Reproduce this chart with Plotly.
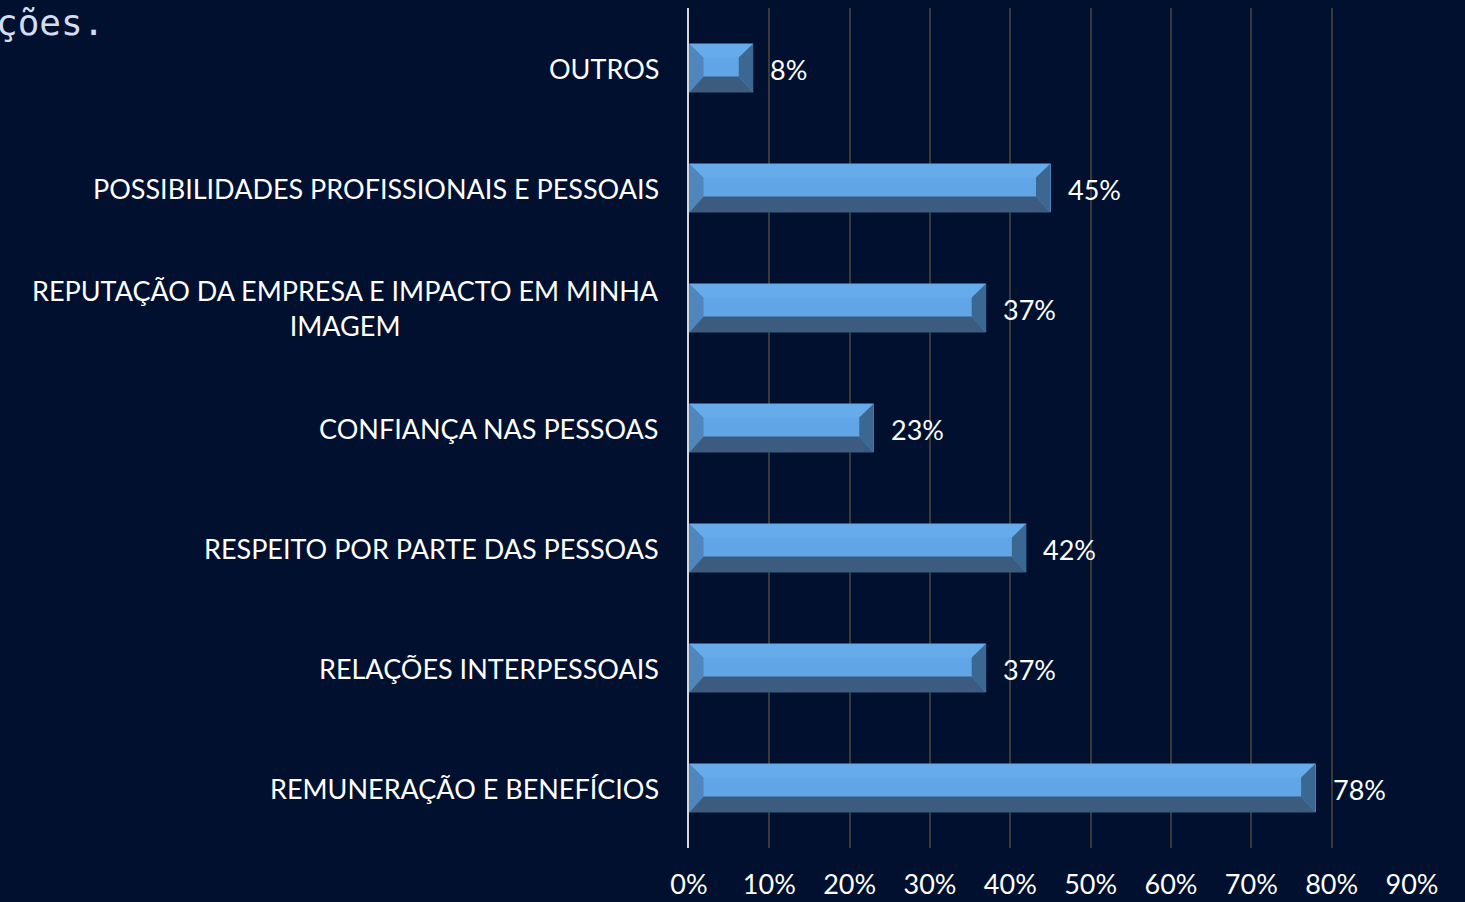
import plotly.graph_objects as go

categories = [
    "REMUNERAÇÃO E BENEFÍCIOS",
    "RELAÇÕES INTERPESSOAIS",
    "RESPEITO POR PARTE DAS PESSOAS",
    "CONFIANÇA NAS PESSOAS",
    "REPUTAÇÃO DA EMPRESA E IMPACTO EM MINHA<br>IMAGEM",
    "POSSIBILIDADES PROFISSIONAIS E PESSOAIS",
    "OUTROS",
]
values = [78, 37, 42, 23, 37, 45, 8]
tick_vals = [0, 10, 20, 30, 40, 50, 60, 70, 80, 90]
tick_text = ["0%", "10%", "20%", "30%", "40%", "50%", "60%", "70%", "80%", "90%"]

BG = "#00102E"
FONT = "Lato"

W, H = 1465, 902
L, R, T, B = 689, 53, 8, 54
x_range = [0, 90]
y_range = [-0.5, len(categories) - 0.5]
px_per_x = (W - L - R) / (x_range[1] - x_range[0])
px_per_y = (H - T - B) / (y_range[1] - y_range[0])

half = 0.204          # half bar thickness (category units)
bx = 14.5 / px_per_x  # bevel width in data units
by_top = 14 / px_per_y
by_bot = 16 / px_per_y

idx = list(range(len(categories)))

def polys(kind):
    xs, ys = [], []
    for i, v in zip(idx, values):
        yt, yb = i + half, i - half
        if kind == "top":
            px = [0, v, v - bx, bx, 0]
            py = [yt, yt, yt - by_top, yt - by_top, yt]
        elif kind == "bottom":
            px = [0, v, v - bx, bx, 0]
            py = [yb, yb, yb + by_bot, yb + by_bot, yb]
        elif kind == "left":
            px = [0, bx, bx, 0, 0]
            py = [yt, yt - by_top, yb + by_bot, yb, yt]
        else:
            px = [v, v - bx, v - bx, v, v]
            py = [yt, yt - by_top, yb + by_bot, yb, yt]
        xs += px + [None]
        ys += py + [None]
    return xs, ys

fig = go.Figure()
fig.add_trace(go.Bar(
    x=values, y=idx, orientation="h", width=2 * half,
    marker=dict(color="#60A5E5", line=dict(width=0)),
    hoverinfo="skip", showlegend=False,
))
for kind, col in [("top", "#67ACEA"), ("bottom", "#3B5B7F"),
                  ("left", "#4F87BD"), ("right", "#3B6893")]:
    xs, ys = polys(kind)
    fig.add_trace(go.Scatter(
        x=xs, y=ys, mode="lines", fill="toself", fillcolor=col,
        line=dict(width=0, color=col), hoverinfo="skip", showlegend=False,
    ))

annotations = []
for i, v in zip(idx, values):
    annotations.append(dict(
        x=v, y=i, xref="x", yref="y", text=f"{v}%", showarrow=False,
        xanchor="left", yanchor="middle", xshift=15, yshift=-1,
        font=dict(family=FONT, size=27, color="#FFFFFF"),
    ))
for i, c in zip(idx, categories):
    annotations.append(dict(
        x=0, y=i, xref="paper", yref="y", text=c, showarrow=False,
        xanchor="right", yanchor="middle", xshift=-28, align="center",
        font=dict(family=FONT, size=27, color="#FFFFFF"),
    ))
annotations.append(dict(
    x=(106 - L) / (W - L - R), y=(H - B - 22) / (H - T - B),
    xref="paper", yref="paper", text="ções.", showarrow=False,
    xanchor="right", yanchor="middle",
    font=dict(family="DejaVu Sans Mono", size=36, color="#D3DCF0"),
))

fig.update_layout(
    width=W, height=H,
    margin=dict(l=L, r=R, t=T, b=B, pad=0, autoexpand=False),
    paper_bgcolor=BG, plot_bgcolor=BG,
    annotations=annotations,
    bargap=0,
    xaxis=dict(
        range=x_range, tickvals=tick_vals, ticktext=tick_text,
        showgrid=True, gridcolor="#3A3A3A", gridwidth=1.5,
        zeroline=False, showline=False, ticks="",
        tickfont=dict(family=FONT, size=27, color="#FFFFFF"),
        ticklabelstandoff=18, fixedrange=True, automargin=False,
    ),
    yaxis=dict(
        range=y_range, showticklabels=False, showgrid=False,
        zeroline=False, showline=True, linecolor="#D9D9D9", linewidth=2,
        ticks="", fixedrange=True, automargin=False,
    ),
)

fig.write_html(
    "out.html",
    config={"displayModeBar": False},
    post_script="document.body.style.margin='0';document.body.style.overflow='hidden';document.body.style.background='" + BG + "';",
)
